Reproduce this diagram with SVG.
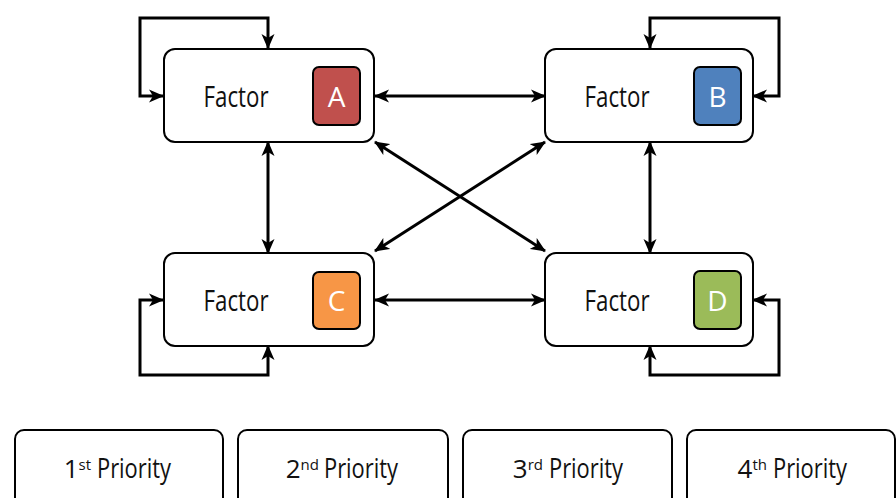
<svg xmlns="http://www.w3.org/2000/svg" width="896" height="498" viewBox="0 0 896 498">
<style>
.box{fill:#fff;stroke:#000;stroke-width:2}
.badge{stroke:#000;stroke-width:2}
.lbl{font-family:"Open Sans","Noto Sans",sans-serif;font-size:29px;fill:#111;text-anchor:middle}
.let{font-family:"Open Sans","Noto Sans",sans-serif;font-size:28px;fill:#fff;text-anchor:middle}
.pr{font-family:"Open Sans","Noto Sans",sans-serif;font-size:27px;fill:#111}
.ord{font-family:"Open Sans","Noto Sans",sans-serif;font-size:26px;fill:#111;text-anchor:end}
.con{fill:none;stroke:#000;stroke-width:3;marker-start:url(#ah);marker-end:url(#ah)}
</style>
<defs>
<marker id="ah" viewBox="0 0 15 14" refX="14" refY="7" markerWidth="15" markerHeight="14" markerUnits="userSpaceOnUse" orient="auto-start-reverse">
<path d="M0,0.5 L15,7 L0,13.5 L4,7 z" fill="#000"/>
</marker>
</defs>
<g id="connectors">
<path class="con" d="M163,96 H140 V18 H268 V48"/>
<path class="con" d="M650,48 V18 H779 V96 H753"/>
<path class="con" d="M163,300 H140 V375 H268 V346"/>
<path class="con" d="M650,346 V375 H779 V300 H753"/>
<path class="con" d="M375,96 H545"/>
<path class="con" d="M375,300 H545"/>
<path class="con" d="M268,142 V253"/>
<path class="con" d="M650,142 V253"/>
<path class="con" d="M375,142 L545,251"/>
<path class="con" d="M545,142 L375,251"/>
</g>
<g id="nodeA">
<rect class="box" x="164" y="49" width="210" height="93" rx="11"/>
<text class="lbl" x="236" y="107" textLength="65" lengthAdjust="spacingAndGlyphs">Factor</text>
<rect class="badge" x="313" y="67" width="47" height="58" rx="6" fill="#c0504d"/>
<text class="let" x="336.5" y="107">A</text>
</g>
<g id="nodeB">
<rect class="box" x="545" y="49" width="208" height="93" rx="11"/>
<text class="lbl" x="617" y="107" textLength="65" lengthAdjust="spacingAndGlyphs">Factor</text>
<rect class="badge" x="694" y="67" width="47" height="58" rx="6" fill="#4f81bd"/>
<text class="let" x="717.5" y="107">B</text>
</g>
<g id="nodeC">
<rect class="box" x="164" y="253" width="210" height="93" rx="11"/>
<text class="lbl" x="236" y="311" textLength="65" lengthAdjust="spacingAndGlyphs">Factor</text>
<rect class="badge" x="313" y="272" width="47" height="57" rx="6" fill="#f79646"/>
<text class="let" x="336.5" y="311">C</text>
</g>
<g id="nodeD">
<rect class="box" x="545" y="253" width="208" height="93" rx="11"/>
<text class="lbl" x="617" y="311" textLength="65" lengthAdjust="spacingAndGlyphs">Factor</text>
<rect class="badge" x="694" y="271" width="47" height="58" rx="6" fill="#9bbb59"/>
<text class="let" x="717.5" y="311">D</text>
</g>
<g id="p1">
<rect class="box" x="15" y="430" width="208" height="85" rx="9"/>
<text class="ord" x="91" y="478">1<tspan font-size="15" dy="-8">st</tspan></text>
<text class="pr" x="97" y="478" textLength="74" lengthAdjust="spacingAndGlyphs">Priority</text>
</g>
<g id="p2">
<rect class="box" x="238" y="430" width="210" height="85" rx="9"/>
<text class="ord" x="319" y="478">2<tspan font-size="15" dy="-8">nd</tspan></text>
<text class="pr" x="324" y="478" textLength="74" lengthAdjust="spacingAndGlyphs">Priority</text>
</g>
<g id="p3">
<rect class="box" x="463" y="430" width="209" height="85" rx="9"/>
<text class="ord" x="543" y="478">3<tspan font-size="15" dy="-8">rd</tspan></text>
<text class="pr" x="549" y="478" textLength="74" lengthAdjust="spacingAndGlyphs">Priority</text>
</g>
<g id="p4">
<rect class="box" x="687" y="430" width="208" height="85" rx="9"/>
<text class="ord" x="767" y="478">4<tspan font-size="15" dy="-8">th</tspan></text>
<text class="pr" x="773" y="478" textLength="74" lengthAdjust="spacingAndGlyphs">Priority</text>
</g>
</svg>
